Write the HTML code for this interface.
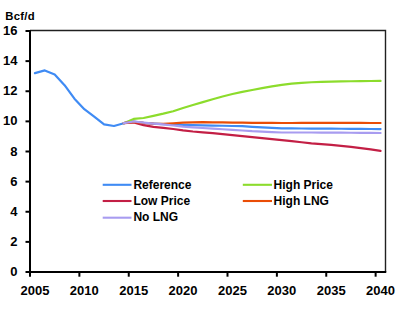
<!DOCTYPE html>
<html><head><meta charset="utf-8"><style>
html,body{margin:0;padding:0;background:#fff;}
body{width:412px;height:309px;overflow:hidden;}
svg{display:block;}
text{font-family:"Liberation Sans",sans-serif;font-weight:bold;fill:#000;}
.ax{font-size:13px;}
.leg{font-size:12px;}
.unit{font-size:11.3px;letter-spacing:0.3px;}
</style></head><body>
<svg width="412" height="309" viewBox="0 0 412 309">
<rect x="0" y="0" width="412" height="309" fill="#fff"/>
<path d="M30.0,30.5 H385.5 V272.0" fill="none" stroke="#202020" stroke-width="1.4"/>
<polyline points="34.94,73.10 44.81,70.40 54.69,74.50 64.56,85.20 74.44,98.70 84.31,109.20 94.19,116.60 104.06,124.40 113.94,126.00 123.81,123.20 133.69,121.60 143.56,122.90 153.44,123.60 163.31,124.20 173.19,124.60 183.06,124.90 192.94,125.10 202.81,125.32 212.69,125.54 222.56,125.76 232.44,125.99 242.31,126.22 252.19,126.78 262.06,127.35 271.94,127.90 281.81,128.39 291.69,128.45 301.56,128.50 311.44,128.55 321.31,128.60 331.19,128.68 341.06,128.76 350.94,128.84 360.81,128.92 370.69,129.01 380.56,129.10" fill="none" stroke="#3f8bf4" stroke-width="2.2" stroke-linejoin="round" stroke-linecap="round"/>
<polyline points="123.81,123.20 133.69,118.90 143.56,118.00 153.44,115.81 163.31,113.69 173.19,111.30 183.06,107.98 192.94,105.02 202.81,102.12 212.69,99.29 222.56,96.52 232.44,94.02 242.31,91.85 252.19,89.98 262.06,88.17 271.94,86.39 281.81,84.91 291.69,83.68 301.56,82.82 311.44,82.25 321.31,81.81 331.19,81.55 341.06,81.39 350.94,81.26 360.81,81.14 370.69,81.02 380.56,80.90" fill="none" stroke="#8cdc2c" stroke-width="2.2" stroke-linejoin="round" stroke-linecap="round"/>
<polyline points="123.81,123.20 133.69,122.40 143.56,125.20 153.44,126.80 163.31,127.82 173.19,129.02 183.06,130.39 192.94,131.48 202.81,132.34 212.69,133.19 222.56,134.06 232.44,135.04 242.31,136.07 252.19,137.12 262.06,138.11 271.94,139.09 281.81,140.08 291.69,141.13 301.56,142.22 311.44,143.34 321.31,144.15 331.19,144.94 341.06,145.91 350.94,146.93 360.81,148.12 370.69,149.46 380.56,150.79" fill="none" stroke="#c31f45" stroke-width="2.2" stroke-linejoin="round" stroke-linecap="round"/>
<polyline points="123.81,123.20 133.69,121.80 143.56,122.90 153.44,123.60 163.31,123.90 173.19,123.30 183.06,122.60 192.94,122.30 202.81,122.20 212.69,122.33 222.56,122.45 232.44,122.58 242.31,122.70 252.19,122.78 262.06,122.85 271.94,122.92 281.81,123.00 291.69,122.98 301.56,122.95 311.44,122.93 321.31,122.90 331.19,122.92 341.06,122.93 350.94,122.95 360.81,122.97 370.69,122.98 380.56,123.00" fill="none" stroke="#ea4d06" stroke-width="2.2" stroke-linejoin="round" stroke-linecap="round"/>
<polyline points="123.81,123.20 133.69,121.50 143.56,122.60 153.44,123.60 163.31,124.30 173.19,125.50 183.06,126.60 192.94,127.36 202.81,127.98 212.69,128.61 222.56,129.24 232.44,129.88 242.31,130.52 252.19,131.21 262.06,131.64 271.94,132.06 281.81,132.49 291.69,132.50 301.56,132.50 311.44,132.50 321.31,132.56 331.19,132.63 341.06,132.70 350.94,132.77 360.81,132.85 370.69,132.92 380.56,133.00" fill="none" stroke="#a89cf0" stroke-width="2.2" stroke-linejoin="round" stroke-linecap="round"/>
<path d="M30.0,30.25 V273.0" stroke="#000" stroke-width="2" fill="none"/>
<path d="M29.0,272.0 H386.25" stroke="#000" stroke-width="2" fill="none"/>
<path d="M25.5,272.00 H30.0" stroke="#000" stroke-width="2"/>
<text x="17.4" y="276.05" text-anchor="end" class="ax">0</text>
<path d="M25.5,241.88 H30.0" stroke="#000" stroke-width="2"/>
<text x="17.4" y="245.93" text-anchor="end" class="ax">2</text>
<path d="M25.5,211.75 H30.0" stroke="#000" stroke-width="2"/>
<text x="17.4" y="215.80" text-anchor="end" class="ax">4</text>
<path d="M25.5,181.62 H30.0" stroke="#000" stroke-width="2"/>
<text x="17.4" y="185.68" text-anchor="end" class="ax">6</text>
<path d="M25.5,151.50 H30.0" stroke="#000" stroke-width="2"/>
<text x="17.4" y="155.55" text-anchor="end" class="ax">8</text>
<path d="M25.5,121.38 H30.0" stroke="#000" stroke-width="2"/>
<text x="17.4" y="125.42" text-anchor="end" class="ax">10</text>
<path d="M25.5,91.25 H30.0" stroke="#000" stroke-width="2"/>
<text x="17.4" y="95.30" text-anchor="end" class="ax">12</text>
<path d="M25.5,61.12 H30.0" stroke="#000" stroke-width="2"/>
<text x="17.4" y="65.17" text-anchor="end" class="ax">14</text>
<path d="M25.5,31.00 H30.0" stroke="#000" stroke-width="2"/>
<text x="17.4" y="35.05" text-anchor="end" class="ax">16</text>
<path d="M30.00,272.0 V276.7" stroke="#000" stroke-width="2"/>
<text x="34.94" y="295" text-anchor="middle" class="ax">2005</text>
<path d="M79.38,272.0 V276.7" stroke="#000" stroke-width="2"/>
<text x="84.31" y="295" text-anchor="middle" class="ax">2010</text>
<path d="M128.75,272.0 V276.7" stroke="#000" stroke-width="2"/>
<text x="133.69" y="295" text-anchor="middle" class="ax">2015</text>
<path d="M178.12,272.0 V276.7" stroke="#000" stroke-width="2"/>
<text x="183.06" y="295" text-anchor="middle" class="ax">2020</text>
<path d="M227.50,272.0 V276.7" stroke="#000" stroke-width="2"/>
<text x="232.44" y="295" text-anchor="middle" class="ax">2025</text>
<path d="M276.88,272.0 V276.7" stroke="#000" stroke-width="2"/>
<text x="281.81" y="295" text-anchor="middle" class="ax">2030</text>
<path d="M326.25,272.0 V276.7" stroke="#000" stroke-width="2"/>
<text x="331.19" y="295" text-anchor="middle" class="ax">2035</text>
<path d="M375.62,272.0 V276.7" stroke="#000" stroke-width="2"/>
<text x="380.56" y="295" text-anchor="middle" class="ax">2040</text>
<text x="5.2" y="19.6" class="unit">Bcf/d</text>
<path d="M102.7,184.8 H131.5" stroke="#3f8bf4" stroke-width="2.1"/>
<text x="133.4" y="189" class="leg">Reference</text>
<path d="M242.8,184.8 H272.0" stroke="#8cdc2c" stroke-width="2.1"/>
<text x="273.6" y="189" class="leg">High Price</text>
<path d="M102.7,201.0 H131.5" stroke="#c31f45" stroke-width="2.1"/>
<text x="133.4" y="205" class="leg">Low Price</text>
<path d="M242.8,201.0 H272.0" stroke="#ea4d06" stroke-width="2.1"/>
<text x="273.6" y="205" class="leg">High LNG</text>
<path d="M102.7,217.7 H131.5" stroke="#a89cf0" stroke-width="2.1"/>
<text x="133.4" y="221.3" class="leg">No LNG</text>
</svg>
</body></html>
